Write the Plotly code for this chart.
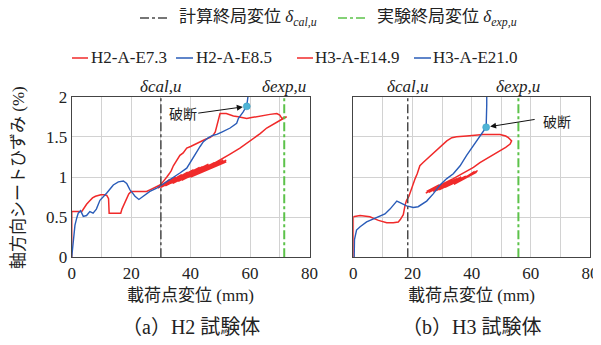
import plotly.graph_objects as go

# ---------------- data ----------------
# (a) H2 specimen
h2_red_x = [0, 0, 3.4, 4.2, 5.0, 6.0, 7.0, 8.0, 9.8, 11.0, 11.8, 12.4, 12.5, 12.6, 14.5, 16.5, 16.9, 17.4, 18.0, 18.6, 19.2, 20.0,
            22.5, 25.2, 26.3, 27.5, 28.6, 29.7, 30.5, 31.2, 32.0, 32.8, 33.5, 34.2, 35.0, 36.4, 37.5, 38.7, 40.0, 41.5,
            43.2, 45.0, 46.5, 47.6, 48.3, 48.8, 49.4, 49.9, 52.0, 53.3, 54.4, 56.0, 58.9, 60.5, 62.2, 64.0, 66.7, 69.0,
            70.0, 70.7, 72.3, 70.3, 68.0, 65.6, 63.4, 60.0, 56.6, 53.0, 49.9, 46.5, 43.2, 40.0, 36.4, 33.0, 29.7,
            33.0, 29.0, 35.0, 29.5, 37.0, 30.0, 39.0, 30.5, 41.0, 31.0, 43.0, 31.5, 44.0, 32.0, 45.0, 33.0, 46.0,
            34.0, 47.0, 35.0, 48.0, 36.0, 49.0, 37.0, 50.0, 38.0, 51.0, 40.0, 52.0, 42.0, 50.0, 44.0, 52.0, 46.0,
            51.0, 48.0, 50.5]
h2_red_y = [0, 0.57, 0.57, 0.62, 0.66, 0.70, 0.74, 0.76, 0.78, 0.78, 0.77, 0.73, 0.62, 0.55, 0.55, 0.55, 0.60, 0.64, 0.70, 0.74, 0.79, 0.82,
            0.82, 0.82, 0.84, 0.86, 0.88, 0.90, 0.93, 0.97, 1.00, 1.04, 1.08, 1.14, 1.19, 1.27, 1.30, 1.36, 1.38, 1.41,
            1.44, 1.47, 1.49, 1.52, 1.56, 1.63, 1.72, 1.79, 1.79, 1.77, 1.76, 1.75, 1.73, 1.74, 1.75, 1.77, 1.78, 1.79,
            1.77, 1.73, 1.75, 1.71, 1.66, 1.61, 1.54, 1.45, 1.36, 1.28, 1.21, 1.14, 1.07, 1.01, 0.96, 0.92, 0.88,
            0.97, 0.86, 1.00, 0.87, 1.03, 0.87, 1.06, 0.88, 1.09, 0.89, 1.12, 0.89, 1.13, 0.90, 1.14, 0.91, 1.16,
            0.92, 1.17, 0.94, 1.18, 0.95, 1.19, 0.96, 1.20, 0.98, 1.21, 1.00, 1.19, 1.04, 1.17, 1.07, 1.21, 1.10,
            1.18, 1.13, 1.17]

h2_blue_x = [0, 0.5, 1.1, 1.7, 2.2, 3.0, 3.9, 5.0, 6.1, 7.2, 8.3, 9.5, 10.6, 11.8, 12.9, 14.0, 15.7, 17.4, 18.5, 19.6,
             20.5, 21.3, 22.6, 24.0, 26.3, 28.6, 30.3, 32.2, 34.2, 36.4, 38.7, 40.9, 43.2, 44.3, 46.0, 47.6, 48.8,
             50.5, 52.2, 53.3, 55.5, 56.1, 57.7, 58.9, 59.3, 59.8]
h2_blue_y = [0, 0.20, 0.40, 0.49, 0.55, 0.58, 0.51, 0.52, 0.57, 0.55, 0.60, 0.71, 0.76, 0.80, 0.85, 0.90, 0.94, 0.95, 0.92, 0.84,
             0.80, 0.76, 0.72, 0.76, 0.82, 0.86, 0.90, 0.95, 1.00, 1.05, 1.11, 1.25, 1.38, 1.44, 1.49, 1.52, 1.53,
             1.56, 1.585, 1.61, 1.67, 1.73, 1.81, 1.89, 2.0, 2.3]
h2_break = (58.9, 1.88)

# (b) H3 specimen
h3_red_x = [0, 0, 2.3, 5.6, 8.5, 11.3, 13.5, 15.2, 15.9, 16.9, 17.5, 18.0, 18.8, 19.7, 20.3, 20.9, 21.6, 22.5, 23.6, 24.8,
            25.8, 27.0, 28.2, 29.3, 30.5, 31.6, 33.3, 34.9, 38.3, 41.0, 43.9, 47.0, 49.6, 51.5, 52.4, 53.5, 53.0, 51.5,
            49.6, 47.3, 45.1, 42.8, 40.6, 38.3, 36.1, 33.8, 31.6, 29.3, 27.0, 24.8,
            29.0, 24.5, 30.5, 25.0, 32.0, 25.5, 33.5, 26.0, 35.0, 27.0, 36.5, 28.0, 38.0, 29.0, 39.0, 30.0, 40.0,
            31.0, 41.0, 32.0, 41.7, 34.0, 42.0, 36.0, 41.0, 38.0, 40.5]
h3_red_y = [0, 0.505, 0.52, 0.505, 0.46, 0.43, 0.43, 0.44, 0.47, 0.53, 0.65, 0.71, 0.76, 0.86, 0.91, 0.98, 1.04, 1.14, 1.18, 1.22,
            1.26, 1.30, 1.33, 1.37, 1.41, 1.45, 1.49, 1.50, 1.51, 1.52, 1.53, 1.53, 1.53, 1.51, 1.49, 1.45, 1.41, 1.37,
            1.33, 1.28, 1.23, 1.18, 1.12, 1.07, 1.02, 0.98, 0.94, 0.90, 0.86, 0.82,
            0.90, 0.80, 0.92, 0.81, 0.94, 0.81, 0.96, 0.82, 0.98, 0.82, 1.00, 0.83, 1.01, 0.84, 1.02, 0.86, 1.03,
            0.87, 1.05, 0.89, 1.06, 0.91, 1.08, 0.95, 1.07, 0.99, 1.05]

h3_blue_x = [0.3, 0.4, 1.1, 2.3, 4.5, 7.9, 10.7, 12.4, 14.7, 15.8, 18.0, 20.3, 21.9, 24.8, 27.0, 29.3, 31.6, 33.8, 36.1,
             38.3, 40.6, 42.8, 44.9, 45.1, 45.1]
h3_blue_y = [0, 0.22, 0.34, 0.38, 0.44, 0.50, 0.54, 0.60, 0.70, 0.68, 0.64, 0.62, 0.63, 0.70, 0.79, 0.90, 0.98, 1.04, 1.14,
             1.27, 1.39, 1.52, 1.62, 1.9, 2.3]
h3_break = (44.9, 1.62)

delta_cal = [30.0, 18.4]   # 計算終局変位 for H2, H3
delta_exp = [71.5, 55.8]   # 実験終局変位 for H2, H3

x_ticks = [0, 20, 40, 60, 80]
y_ticks = [0, 0.5, 1, 1.5, 2]
y_tick_text = ["0", "0.5", "1", "1.5", "2"]

# ---------------- style ----------------
RED = "#f02a2a"
BLUE = "#2a5cb8"
GREEN = "#5cc24a"
GRAYL = "#4a4a4a"
DOT = "#4fb4d6"
FONT = '"Liberation Serif", "Noto Sans CJK JP", serif'
JFONT = '"Noto Sans CJK JP", sans-serif'
OFF = 8  # page body margin

def py(p):  # window pixel y -> paper
    return 1 - (p - OFF) / 345
def px(p):  # window pixel x -> paper
    return (p - OFF) / 601

fig = go.Figure()

def add_panel(xa, ya, rx, ry, bx, by, brk, dc, de):
    fig.add_trace(go.Scatter(x=rx, y=ry, mode="lines", line=dict(color=RED, width=1.5),
                             xaxis=xa, yaxis=ya, showlegend=False, hoverinfo="skip"))
    fig.add_trace(go.Scatter(x=bx, y=by, mode="lines", line=dict(color=BLUE, width=1.4),
                             xaxis=xa, yaxis=ya, showlegend=False, hoverinfo="skip"))
    fig.add_trace(go.Scatter(x=[dc, dc], y=[0, 2], mode="lines",
                             line=dict(color=GRAYL, width=1.5, dash="dashdot"),
                             xaxis=xa, yaxis=ya, showlegend=False, hoverinfo="skip"))
    fig.add_trace(go.Scatter(x=[de, de], y=[0, 2], mode="lines",
                             line=dict(color=GREEN, width=2, dash="dashdot"),
                             xaxis=xa, yaxis=ya, showlegend=False, hoverinfo="skip"))
    fig.add_trace(go.Scatter(x=[brk[0]], y=[brk[1]], mode="markers",
                             marker=dict(color=DOT, size=7, line=dict(color="#3a9cc0", width=0.5)),
                             xaxis=xa, yaxis=ya, showlegend=False, hoverinfo="skip"))

add_panel("x", "y", h2_red_x, h2_red_y, h2_blue_x, h2_blue_y, h2_break, delta_cal[0], delta_exp[0])
add_panel("x2", "y2", h3_red_x, h3_red_y, h3_blue_x, h3_blue_y, h3_break, delta_cal[1], delta_exp[1])

ydom = [py(257.3), py(96.7)]
axis_common = dict(range=[0, 80], tickvals=x_ticks, showgrid=True, gridcolor="#d2d2d2", gridwidth=1,
                   minor=dict(dtick=10, showgrid=True, gridcolor="#d2d2d2", gridwidth=1),
                   showline=True, linecolor="#444", linewidth=1, mirror=True, zeroline=False, automargin=False,
                   ticks="", tickfont=dict(family=FONT, size=17, color="#222"))
yaxis_common = dict(range=[0, 2], showgrid=True, gridcolor="#d2d2d2", automargin=False,
                    gridwidth=1, showline=True, linecolor="#444", linewidth=1, mirror=True, zeroline=False,
                    ticks="", tickfont=dict(family=FONT, size=17, color="#222"))

fig.update_layout(
    width=601, height=345, margin=dict(l=0, r=0, t=0, b=0, autoexpand=False),
    paper_bgcolor="white", plot_bgcolor="white", showlegend=False,
    xaxis=dict(domain=[px(71.7), px(309.5)], anchor="y", **axis_common),
    yaxis=dict(domain=ydom, anchor="x", tickvals=y_ticks, ticktext=y_tick_text, **yaxis_common),
    xaxis2=dict(domain=[px(353.3), px(590)], anchor="y2", **axis_common),
    yaxis2=dict(domain=ydom, anchor="x2", showticklabels=False, tickvals=y_ticks, **yaxis_common),
)

ann = []

# delta labels above the plots
for xa, dc, de in (("x", delta_cal[0], delta_exp[0]), ("x2", delta_cal[1], delta_exp[1])):
    for val, lab in ((dc, "δcal,u"), (de, "δexp,u")):
        ann.append(dict(x=val, xref=xa, y=py(86), yref="paper", text="<i>%s</i>" % lab, showarrow=False,
                        font=dict(family=FONT, size=17, color="#222"), xanchor="center", yanchor="middle"))

# break annotations (arrow tails given as pixel offsets from the marker)
ann.append(dict(x=h2_break[0], y=h2_break[1], xref="x", yref="y", ax=-50, ay=7,
                text="", showarrow=True, arrowhead=2, arrowsize=1.2, arrowwidth=1, arrowcolor="#111",
                standoff=4))
ann.append(dict(x=px(183), y=py(113), xref="paper", yref="paper", text="破断", showarrow=False,
                font=dict(family=JFONT, size=14, color="#222"), xanchor="center", yanchor="middle"))
ann.append(dict(x=h3_break[0], y=h3_break[1], xref="x2", yref="y2", ax=50, ay=-8,
                text="", showarrow=True, arrowhead=2, arrowsize=1.2, arrowwidth=1, arrowcolor="#111",
                standoff=4))
ann.append(dict(x=px(557), y=py(121), xref="paper", yref="paper", text="破断", showarrow=False,
                font=dict(family=JFONT, size=14, color="#222"), xanchor="center", yanchor="middle"))

# axis titles
for cx in (190.6, 471.6):
    ann.append(dict(x=px(cx), y=py(295), xref="paper", yref="paper", text="載荷点変位 (mm)", showarrow=False,
                    font=dict(family=FONT, size=17, color="#222"), xanchor="center", yanchor="middle"))
ann.append(dict(x=px(18), y=py(178), xref="paper", yref="paper", text="軸方向シートひずみ (%)", showarrow=False,
                textangle=-90, font=dict(family=FONT, size=17, color="#222"), xanchor="center", yanchor="middle"))
ann.append(dict(x=px(190.6), y=py(327), xref="paper", yref="paper", text="（a）H2 試験体", showarrow=False,
                font=dict(family=FONT, size=20, color="#222"), xanchor="center", yanchor="middle"))
ann.append(dict(x=px(471.6), y=py(327), xref="paper", yref="paper", text="（b）H3 試験体", showarrow=False,
                font=dict(family=FONT, size=20, color="#222"), xanchor="center", yanchor="middle"))

# manual legend
shapes = []
leg1 = [(140, 170, GRAYL, "dashdot", 1.3, "計算終局変位 <i>δ<sub>cal,u</sub></i>", 177),
        (338, 368, GREEN, "dashdot", 1.5, "実験終局変位 <i>δ<sub>exp,u</sub></i>", 375)]
for x0, x1, col, dash, w, txt, tx in leg1:
    shapes.append(dict(type="line", xref="paper", yref="paper", x0=px(x0), x1=px(x1), y0=py(18), y1=py(18),
                       line=dict(color=col, width=w, dash=dash)))
    ann.append(dict(x=px(tx), y=py(18), xref="paper", yref="paper", text=txt, showarrow=False,
                    font=dict(family=FONT, size=17, color="#222"), xanchor="left", yanchor="middle"))
leg2 = [(72, 88, RED, "H2-A-E7.3", 89), (176, 193, BLUE, "H2-A-E8.5", 194),
        (297, 313, RED, "H3-A-E14.9", 313), (414, 431, BLUE, "H3-A-E21.0", 431)]
for x0, x1, col, txt, tx in leg2:
    shapes.append(dict(type="line", xref="paper", yref="paper", x0=px(x0), x1=px(x1), y0=py(58), y1=py(58),
                       line=dict(color=col, width=1.5)))
    ann.append(dict(x=px(tx), y=py(58), xref="paper", yref="paper", text=txt, showarrow=False,
                    font=dict(family=FONT, size=17, color="#222"), xanchor="left", yanchor="middle"))

fig.update_layout(annotations=ann, shapes=shapes)
fig.write_html("out.html")
